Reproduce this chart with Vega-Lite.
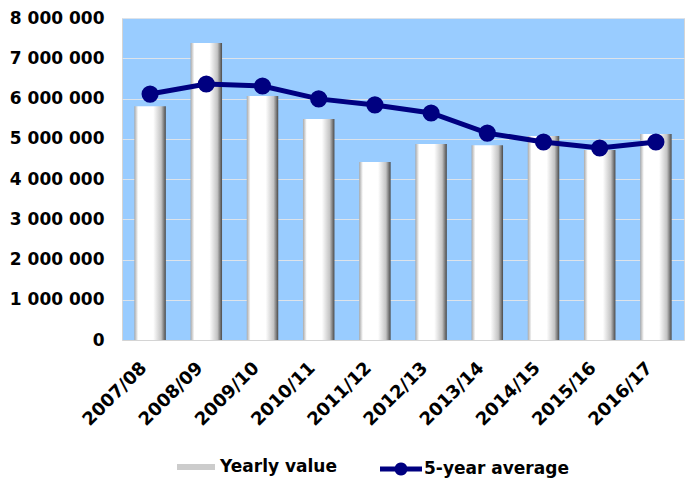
{
  "$schema": "https://vega.github.io/schema/vega-lite/v6.json",
  "width": 562,
  "height": 322,
  "autosize": "none",
  "padding": {"left": 122, "top": 18, "right": 10, "bottom": 142},
  "background": "white",
  "config": {
    "view": {"fill": "#99CCFF", "stroke": "#d4d4d4"},
    "font": "DejaVu Sans"
  },
  "data": {
    "values": [
      {"year": "2007/08", "value": 5810000, "avg": 6110000},
      {"year": "2008/09", "value": 7380000, "avg": 6360000},
      {"year": "2009/10", "value": 6060000, "avg": 6310000},
      {"year": "2010/11", "value": 5490000, "avg": 5990000},
      {"year": "2011/12", "value": 4420000, "avg": 5840000},
      {"year": "2012/13", "value": 4870000, "avg": 5640000},
      {"year": "2013/14", "value": 4840000, "avg": 5140000},
      {"year": "2014/15", "value": 5070000, "avg": 4920000},
      {"year": "2015/16", "value": 4720000, "avg": 4770000},
      {"year": "2016/17", "value": 5120000, "avg": 4920000}
    ]
  },
  "encoding": {
    "x": {
      "field": "year",
      "type": "ordinal",
      "title": null,
      "scale": {"paddingInner": 0.44, "paddingOuter": 0.22},
      "axis": {
        "labelAngle": -45,
        "labelAlign": "right",
        "labelBaseline": "middle",
        "labelFont": "DejaVu Sans",
        "labelFontWeight": "bold",
        "labelFontSize": 18,
        "labelColor": "#000000",
        "labelPadding": 25,
        "labelOffset": -6,
        "ticks": false,
        "domainColor": "#d4d4d4"
      }
    }
  },
  "layer": [
    {
      "mark": {
        "type": "bar",
        "fill": {
          "gradient": "linear", "x1": 0, "x2": 1, "y1": 0, "y2": 0,
          "stops": [
            {"offset": 0, "color": "#a8a8a8"},
            {"offset": 0.12, "color": "#ffffff"},
            {"offset": 0.6, "color": "#ffffff"},
            {"offset": 0.85, "color": "#c4c4c4"},
            {"offset": 1, "color": "#4a4a4a"}
          ]
        }
      },
      "encoding": {
        "y": {
          "field": "value",
          "type": "quantitative",
          "title": null,
          "scale": {"domain": [0, 8000000]},
          "axis": {
            "values": [0, 1000000, 2000000, 3000000, 4000000, 5000000, 6000000, 7000000, 8000000],
            "labelExpr": "replace(format(datum.value, ','), regexp(',', 'g'), ' ')",
            "labelFont": "DejaVu Sans",
            "labelFontWeight": "bold",
            "labelFontSize": 17,
            "labelColor": "#000000",
            "labelPadding": 18,
            "ticks": false,
            "domain": false,
            "gridColor": "#dde3ea",
            "gridWidth": 1
          }
        }
      }
    },
    {
      "mark": {"type": "bar", "opacity": 0},
      "encoding": {
        "y": {"field": "value", "type": "quantitative"},
        "fill": {
          "datum": "Yearly value",
          "scale": {"domain": ["Yearly value"], "range": ["#cccccc"]},
          "legend": {
            "orient": "none",
            "legendX": 55,
            "legendY": 430,
            "title": null,
            "symbolType": "M-1,-0.158H1V0.158H-1Z",
            "symbolSize": 1444,
            "symbolStrokeWidth": 0,
            "labelFont": "DejaVu Sans",
            "labelFontWeight": "bold",
            "labelFontSize": 17,
            "labelColor": "#000000",
            "labelOffset": 5,
            "encode": {"symbols": {"update": {
              "opacity": {"value": 1},
              "fillOpacity": {"value": 1},
              "strokeWidth": {"value": 0}
            }}}
          }
        }
      }
    },
    {
      "mark": {
        "type": "line",
        "color": "#000080",
        "strokeWidth": 5,
        "point": {"filled": true, "fill": "#000080", "size": 230}
      },
      "encoding": {
        "y": {"field": "avg", "type": "quantitative"},
        "stroke": {
          "datum": "5-year average",
          "scale": {"domain": ["5-year average"], "range": ["#000080"]},
          "legend": {
            "orient": "none",
            "legendX": 258,
            "legendY": 430,
            "title": null,
            "symbolType": "M-1,-0.119H-0.286A0.31,0.31 0 0 1 0.286,-0.119H1V0.119H0.286A0.31,0.31 0 0 1 -0.286,0.119H-1Z",
            "symbolSize": 1764,
            "symbolStrokeWidth": 0,
            "symbolFillColor": "#000080",
            "labelFont": "DejaVu Sans",
            "labelFontWeight": "bold",
            "labelFontSize": 17,
            "labelColor": "#000000",
            "labelOffset": 2,
            "encode": {"symbols": {"update": {"fill": {"value": "#000080"}, "strokeWidth": {"value": 0}, "opacity": {"value": 1}}}}
          }
        }
      }
    }
  ]
}
